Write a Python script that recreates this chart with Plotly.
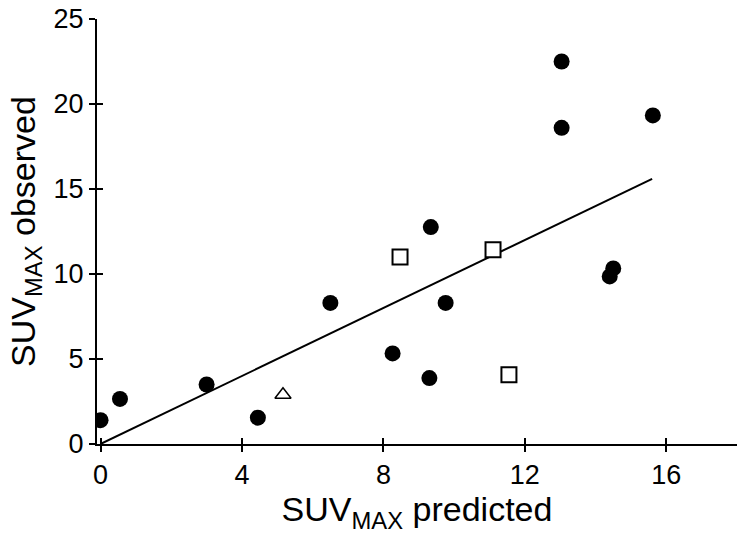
import plotly.graph_objects as go

# filled circles
circle_x = [0.0, 0.55, 3.0, 4.45, 6.5, 8.26, 9.3, 9.34, 9.76, 13.04, 13.04, 15.62, 14.4, 14.5]
circle_y = [1.4, 2.65, 3.5, 1.55, 8.3, 5.33, 3.88, 12.76, 8.3, 22.5, 18.6, 19.33, 9.86, 10.33]

# open squares
square_x = [8.47, 11.1, 11.55]
square_y = [11.0, 11.43, 4.08]

# open triangle
tri_x = [5.16]
tri_y = [2.9]

# identity line
line_x = [0.0, 15.6]
line_y = [0.0, 15.6]

x_ticks = [0, 4, 8, 12, 16]
y_ticks = [0, 5, 10, 15, 20, 25]

FONT = "Liberation Sans, Arial, sans-serif"

fig = go.Figure()
fig.add_trace(go.Scatter(x=line_x, y=line_y, mode="lines",
                         line=dict(color="black", width=2), hoverinfo="skip"))
fig.add_trace(go.Scatter(x=circle_x, y=circle_y, mode="markers",
                         marker=dict(symbol="circle", size=16, color="black")))
fig.add_trace(go.Scatter(x=square_x, y=square_y, mode="markers",
                         marker=dict(symbol="square", size=15, color="white",
                                     line=dict(color="black", width=2))))
fig.add_trace(go.Scatter(x=tri_x, y=tri_y, mode="markers",
                         marker=dict(symbol="triangle-up", size=14, color="white",
                                     line=dict(color="black", width=1.5))))

# empty trace on secondary axes, only there to get ticks crossing the axis line
fig.add_trace(go.Scatter(x=[None], y=[None], xaxis="x2", yaxis="y2", showlegend=False))

fig.update_layout(
    width=742, height=539,
    margin=dict(l=97, r=5, t=19, b=95),
    plot_bgcolor="white", paper_bgcolor="white",
    showlegend=False,
    font=dict(family=FONT, size=27, color="black"),
    xaxis=dict(
        range=[-0.1, 18], tickvals=x_ticks, ticks="outside", ticklen=6,
        tickwidth=2, tickcolor="black", showline=True, linecolor="black",
        linewidth=2, showgrid=False, zeroline=False,
        title=dict(text="SUV<sub>MAX</sub> predicted", font=dict(size=34), standoff=8),
    ),
    yaxis=dict(
        range=[0, 25], tickvals=y_ticks, ticks="outside", ticklen=6,
        tickwidth=2, tickcolor="black", showline=True, linecolor="black",
        linewidth=2, showgrid=False, zeroline=False,
        title=dict(text="SUV<sub>MAX</sub> observed", font=dict(size=34), standoff=8),
    ),
    xaxis2=dict(range=[-0.1, 18], tickvals=x_ticks, ticks="inside", ticklen=6,
                tickwidth=2, tickcolor="black", showticklabels=False,
                showgrid=False, zeroline=False, overlaying="x", side="bottom",
                anchor="y2"),
    yaxis2=dict(range=[0, 25], tickvals=y_ticks, ticks="inside", ticklen=6,
                tickwidth=2, tickcolor="black", showticklabels=False,
                showgrid=False, zeroline=False, overlaying="y", side="left",
                anchor="x2"),
)

# page body has a default 8px margin; drop it so the chart sits at the window corner
fig.write_html("out.html", config={"displayModeBar": False},
               post_script="document.body.style.margin='0';")
